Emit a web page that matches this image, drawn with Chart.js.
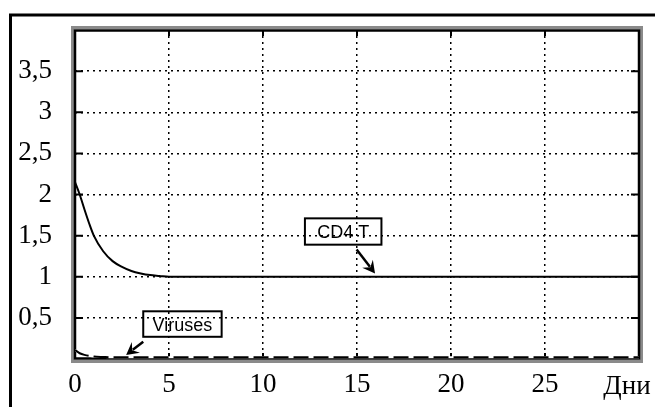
<!DOCTYPE html>
<html>
<head>
<meta charset="utf-8">
<script src="https://cdn.jsdelivr.net/npm/chart.js@4/dist/chart.umd.min.js"></script>
<style>
    html, body { margin: 0; padding: 0; background: #fff; }
    #wrap { width: 655px; height: 407px; }
</style>
</head>
<body>
<div id="wrap"><canvas id="chart" width="655" height="407"></canvas></div>
<script>
// ---- DATA ----
const cd4Days   = [0, 0.25, 0.5, 0.75, 1, 1.5, 2, 2.5, 3, 3.5, 4, 4.5, 5, 10, 15, 20, 25, 30];
const cd4Values = [2.15, 2.0, 1.82, 1.65, 1.5, 1.31, 1.19, 1.12, 1.07, 1.04, 1.02, 1.01, 1.0, 1.0, 1.0, 1.0, 1.0, 1.0];

const virusDays   = [0, 0.25, 0.5, 1, 1.5, 2, 3, 5, 10, 15, 20, 25, 30];
const virusValues = [0.11, 0.07, 0.05, 0.03, 0.024, 0.02, 0.02, 0.02, 0.02, 0.02, 0.02, 0.02, 0.02];

const xTicks      = [0, 5, 10, 15, 20, 25, 30];
const xTickLabels = ['0', '5', '10', '15', '20', '25', ''];
const yTicks      = [0.5, 1, 1.5, 2, 2.5, 3, 3.5];
const yTickLabels = ['0,5', '1', '1,5', '2', '2,5', '3', '3,5'];
const xAxisName   = 'Дни';

// callouts, in data units: box corners [x1, y1, x2, y2], arrow [fromX, fromY, toX, toY]
const callouts = [
    { text: 'CD4 T',   box: [12.23, 1.71, 16.3, 1.39], arrow: [14.98, 1.33, 15.96, 1.04] },
    { text: 'Viruses', box: [3.63, 0.58, 7.8, 0.27],   arrow: [3.63, 0.21, 2.72, 0.05] }
];

const toPoints = (xs, ys) => xs.map((x, i) => ({ x: x, y: ys[i] }));

// ---- PLUGINS ----
const plotFrame = {
    id: 'plotFrame',
    beforeDatasetsDraw(chart) {
        const { ctx, chartArea: a, scales } = chart;
        ctx.save();
        // grey outer edge
        ctx.strokeStyle = '#8a8a8a';
        ctx.lineWidth = 3;
        ctx.strokeRect(a.left - 2.5, a.top - 2.5, a.right - a.left + 5, a.bottom - a.top + 5);
        // black inner edge
        ctx.strokeStyle = '#000';
        ctx.lineWidth = 2.5;
        ctx.strokeRect(a.left, a.top + 0.5, a.right - a.left, a.bottom - a.top - 1);
        // small inward ticks
        ctx.lineWidth = 2;
        yTicks.forEach(v => {
            const y = scales.y.getPixelForValue(v);
            ctx.beginPath();
            ctx.moveTo(a.left, y); ctx.lineTo(a.left + 8, y);
            ctx.moveTo(a.right, y); ctx.lineTo(a.right - 8, y);
            ctx.stroke();
        });
        xTicks.slice(1, -1).forEach(v => {
            const x = scales.x.getPixelForValue(v);
            ctx.beginPath();
            ctx.moveTo(x, a.bottom); ctx.lineTo(x, a.bottom - 6);
            ctx.moveTo(x, a.top); ctx.lineTo(x, a.top + 6);
            ctx.stroke();
        });
        ctx.restore();
    },
    afterDraw(chart) {
        const { ctx, scales } = chart;
        const px = v => scales.x.getPixelForValue(v);
        const py = v => scales.y.getPixelForValue(v);
        ctx.save();

        // outer page frame (left and top only)
        ctx.strokeStyle = '#000';
        ctx.lineWidth = 3;
        ctx.beginPath();
        ctx.moveTo(10.5, 407);
        ctx.lineTo(10.5, 15);
        ctx.lineTo(655, 15);
        ctx.stroke();

        // axis name at the end of the x axis
        ctx.fillStyle = '#000';
        ctx.font = '27px "Liberation Serif", "Times New Roman", serif';
        ctx.textAlign = 'center';
        ctx.textBaseline = 'middle';
        ctx.fillText(xAxisName, 627, 387);

        // callouts
        callouts.forEach(c => {
            const x1 = px(c.box[0]), y1 = py(c.box[1]);
            const x2 = px(c.box[2]), y2 = py(c.box[3]);
            ctx.lineWidth = 2;
            ctx.strokeStyle = '#000';
            ctx.strokeRect(x1, y1, x2 - x1, y2 - y1);
            ctx.font = '18px "Liberation Sans", Arial, sans-serif';
            ctx.textAlign = 'center';
            ctx.textBaseline = 'middle';
            ctx.fillText(c.text, (x1 + x2) / 2, (y1 + y2) / 2 + 2);

            const ax = px(c.arrow[0]), ay = py(c.arrow[1]);
            const bx = px(c.arrow[2]), by = py(c.arrow[3]);
            const ang = Math.atan2(by - ay, bx - ax);
            const head = 14;
            ctx.lineWidth = 2.5;
            ctx.beginPath();
            ctx.moveTo(ax, ay);
            ctx.lineTo(bx - Math.cos(ang) * head * 0.6, by - Math.sin(ang) * head * 0.6);
            ctx.stroke();
            ctx.beginPath();
            ctx.moveTo(bx, by);
            ctx.lineTo(bx - head * Math.cos(ang - 0.5), by - head * Math.sin(ang - 0.5));
            ctx.lineTo(bx - head * 0.55 * Math.cos(ang), by - head * 0.55 * Math.sin(ang));
            ctx.lineTo(bx - head * Math.cos(ang + 0.5), by - head * Math.sin(ang + 0.5));
            ctx.closePath();
            ctx.fill();
        });
        ctx.restore();
    }
};

const tickFont = { family: '"Liberation Serif", "Times New Roman", serif', size: 27 };

new Chart(document.getElementById('chart'), {
    type: 'line',
    data: {
        datasets: [
            {
                label: 'CD4 T',
                data: toPoints(cd4Days, cd4Values),
                borderColor: '#000',
                borderWidth: 2,
                pointRadius: 0,
                cubicInterpolationMode: 'monotone',
                order: 1
            },
            {
                label: 'Viruses',
                data: toPoints(virusDays, virusValues),
                borderColor: '#000',
                borderWidth: 2,
                borderDash: [15, 5],
                pointRadius: 0,
                cubicInterpolationMode: 'monotone',
                order: 2
            },
            {
                // white under-stroke so the dash gaps show white over the frame
                label: 'Viruses gaps',
                data: toPoints(virusDays, virusValues),
                borderColor: '#fff',
                borderWidth: 2,
                pointRadius: 0,
                cubicInterpolationMode: 'monotone',
                order: 3
            }
        ]
    },
    options: {
        responsive: false,
        animation: false,
        layout: { padding: { left: 0, top: 30, right: 16, bottom: 0 } },
        plugins: {
            legend: { display: false },
            tooltip: { enabled: false }
        },
        scales: {
            x: {
                type: 'linear',
                min: 0,
                max: 30,
                afterBuildTicks: s => { s.ticks = xTicks.map(v => ({ value: v })); },
                afterFit: s => { s.height = 48; },
                ticks: {
                    color: '#000',
                    font: tickFont,
                    padding: 10,
                    maxRotation: 0,
                    autoSkip: false,
                    callback: (v, i) => xTickLabels[i]
                },
                grid: { color: '#000', lineWidth: 1.5, drawTicks: false },
                border: { display: false, dash: [2, 4] }
            },
            y: {
                type: 'linear',
                min: 0,
                max: 4,
                afterBuildTicks: s => { s.ticks = yTicks.map(v => ({ value: v })); },
                afterFit: s => { s.width = 75; },
                ticks: {
                    color: '#000',
                    font: tickFont,
                    padding: 0,
                    autoSkip: false,
                    callback: (v, i) => yTickLabels[i]
                },
                // invisible tick marks give the gap between labels and the frame
                grid: { color: '#000', lineWidth: 1.5, drawTicks: true, tickLength: 23, tickColor: 'rgba(0,0,0,0)' },
                border: { display: false, dash: [2, 4] }
            }
        }
    },
    plugins: [plotFrame]
});
</script>
</body>
</html>
